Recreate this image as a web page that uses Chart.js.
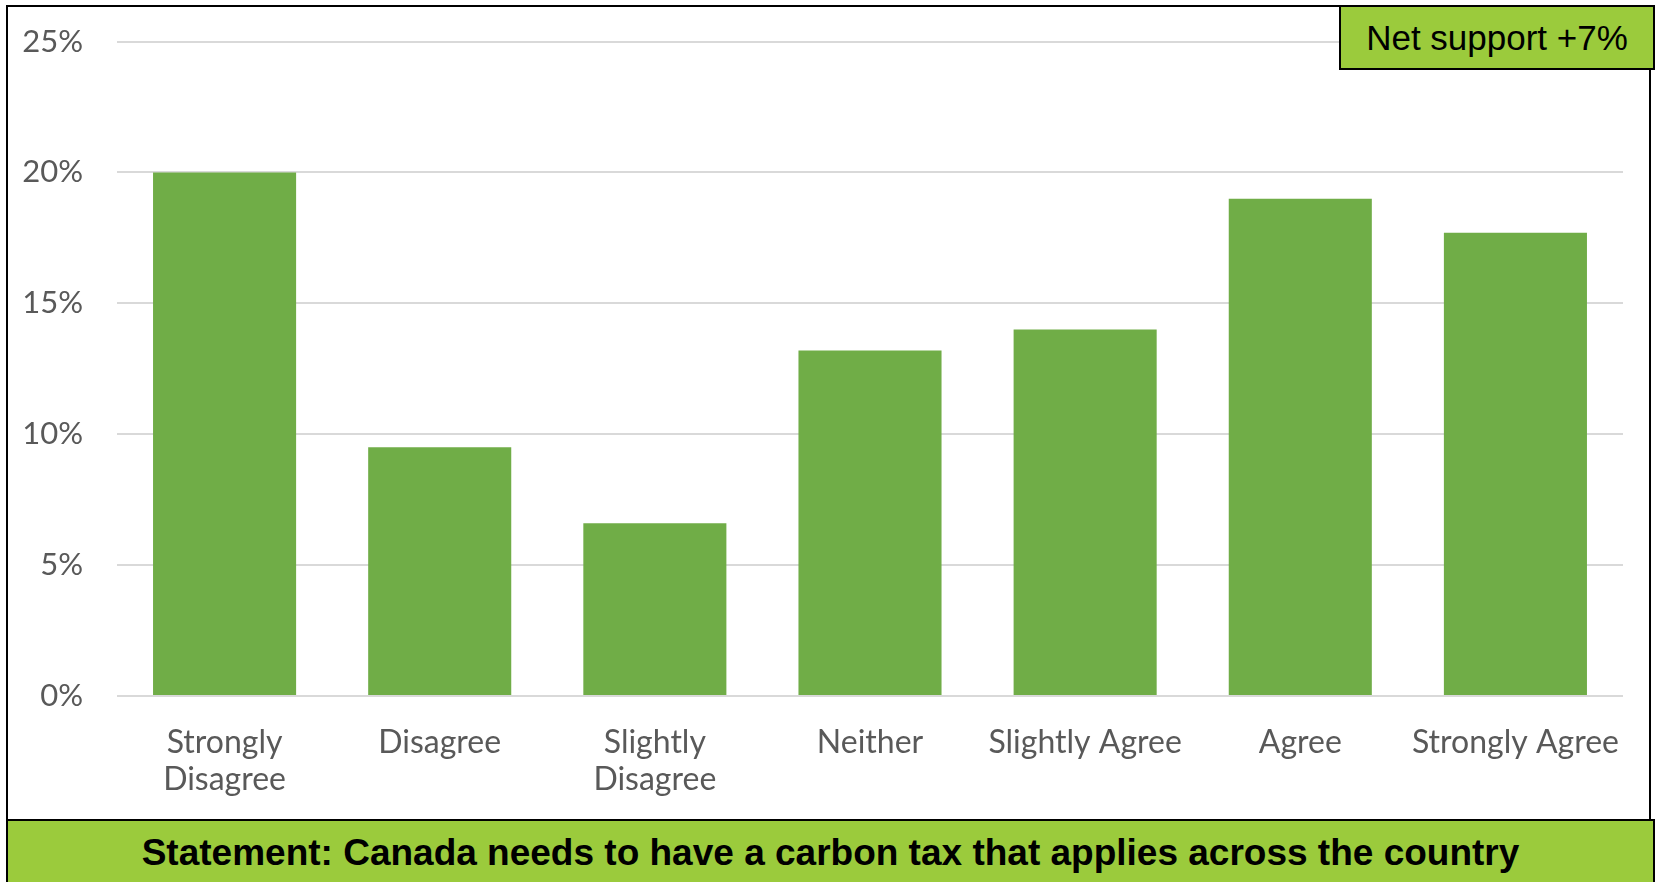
<!DOCTYPE html>
<html>
<head>
<meta charset="utf-8">
<script src="https://cdn.jsdelivr.net/npm/chart.js@4.4.1/dist/chart.umd.min.js"></script>
<style>
  html, body { margin: 0; padding: 0; background: #fff; overflow: hidden; }
  #wrap { position: relative; width: 1657px; height: 882px; overflow: hidden; }
  #frame {
    position: absolute; left: 6px; top: 5px; width: 1645px; height: 900px;
    border: 2px solid #000; box-sizing: border-box; pointer-events: none;
  }
  #net {
    position: absolute; left: 1339px; top: 5px; width: 316px; height: 65px;
    box-sizing: border-box; border: 2px solid #000; background: #9bcb3c;
    font: 35px "Liberation Sans", Arial, sans-serif; color: #000;
    display: flex; align-items: center; justify-content: center;
  }
  #statement {
    position: absolute; left: 6px; top: 819px; width: 1649px; height: 70px;
    box-sizing: border-box; border: 2px solid #000; border-bottom: none; background: #9bcb3c;
    font: bold 37px "Liberation Sans", Arial, sans-serif; color: #000;
    text-align: center; line-height: 64px;
  }
  /* the y scale reserves extra room above the top tick, so the canvas sits a bit higher */
  #chart { position: absolute; left: 0; top: -11px; }
</style>
</head>
<body>
<div id="wrap">
  <canvas id="chart" width="1657" height="893"></canvas>
  <div id="frame"></div>
  <div id="net">Net support +7%</div>
  <div id="statement">Statement: Canada needs to have a carbon tax that applies across the country</div>
</div>
<script>
const categories = [['Strongly', 'Disagree'], 'Disagree', ['Slightly', 'Disagree'], 'Neither', 'Slightly Agree', 'Agree', 'Strongly Agree'];
const shares = [20.0, 9.5, 6.6, 13.2, 14.0, 19.0, 17.7];
const yTicks = [0, 5, 10, 15, 20, 25];

const ctx = document.getElementById('chart').getContext('2d');
const myBarChart = new Chart(ctx, {
    type: 'bar',
    data: {
        labels: categories,
        datasets: [{
            label: 'Share',
            data: shares,
            backgroundColor: '#70ad47',
            barPercentage: 0.665,
            categoryPercentage: 1.0
        }]
    },
    options: {
        responsive: false,
        animation: false,
        layout: { padding: { top: 31, right: 34, left: 0, bottom: 0 } },
        plugins: {
            legend: { display: false },
            tooltip: { enabled: false }
        },
        scales: {
            x: {
                grid: { display: false },
                border: { display: false },
                ticks: {
                    color: '#595959',
                    font: { family: 'Lato', size: 32, lineHeight: 1.156 },
                    padding: 20, maxRotation: 0, autoSkip: false
                },
                afterFit: (scale) => { scale.height = 186; }
            },
            y: {
                min: 0,
                max: 25,
                afterBuildTicks: (scale) => { scale.ticks = yTicks.map(v => ({ value: v })); },
                grid: { color: '#d9d9d9', lineWidth: 2, drawTicks: false },
                border: { display: false },
                ticks: {
                    color: '#595959',
                    font: { family: 'Lato', size: 31 },
                    padding: 34,
                    callback: (v) => v + '%'
                },
                afterFit: (scale) => { scale.width = 117; }
            }
        }
    }
});
</script>
</body>
</html>
